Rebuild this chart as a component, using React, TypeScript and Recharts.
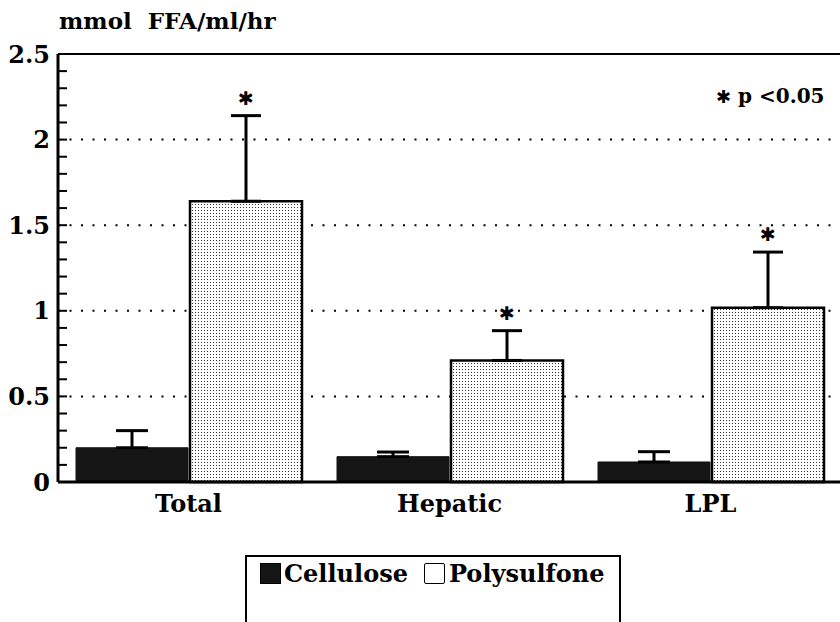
import { BarChart, Bar, XAxis, YAxis, CartesianGrid, ErrorBar, LabelList, ReferenceLine } from 'recharts'

const categories = ['Total', 'Hepatic', 'LPL']
const cellulose = [0.2, 0.148, 0.117]
const celluloseSd = [0.1, 0.027, 0.06]
const polysulfone = [1.64, 0.71, 1.018]
const polysulfoneSd = [0.5, 0.174, 0.325]
const significant = [true, true, true]
const seriesNames = ['Cellulose', 'Polysulfone']
const yTicks = [0, 0.5, 1, 1.5, 2, 2.5]
const gridValues = [0.5, 1, 1.5, 2]
const allTicks = [0, 0.1, 0.2, 0.3, 0.4, 0.5, 0.6, 0.7, 0.8, 0.9, 1, 1.1, 1.2, 1.3, 1.4, 1.5, 1.6, 1.7, 1.8, 1.9, 2, 2.1, 2.2, 2.3, 2.4, 2.5]

const data = categories.map((name, i) => ({
  name,
  cellulose: cellulose[i],
  celluloseErr: [0, celluloseSd[i]],
  polysulfone: polysulfone[i],
  polysulfoneErr: [0, polysulfoneSd[i]],
}))

const serif = '"DejaVu Serif", serif'
const fontSize = 24

function Star(props: any) {
  const { x, y, width, height, value, index } = props
  if (!significant[index] || !value) return null
  const pxPerUnit = height / value
  const top = y - polysulfoneSd[index] * pxPerUnit
  return (
    <text x={x + width / 2} y={top - 18} textAnchor="middle" dominantBaseline="central"
      fontFamily='"DejaVu Sans", sans-serif' fontSize={19} fontWeight="bold" fill="#000">✱</text>
  )
}

// labels only on the major ticks, short inward tick marks on every 0.1
function YTick(props: any) {
  const { x, y, payload } = props
  const v = payload.value
  const major = yTicks.some(t => Math.abs(t - v) < 1e-6)
  const edge = v < 1e-6 || v > 2.5 - 1e-6
  return (
    <g>
      {!edge && <line x1={x + 8} x2={x + 17} y1={y} y2={y} stroke="#000" strokeWidth={2} />}
      {major && (
        <text x={x} y={y} dy="0.36em" textAnchor="end" fill="#000" fontFamily={serif} fontWeight="bold" fontSize={24}>
          {String(v)}
        </text>
      )}
    </g>
  )
}

export default function App() {
  return (
    <div style={{ position: 'fixed', left: 0, top: 0, width: 840, height: 622, background: '#fff', overflow: 'hidden', fontFamily: serif, fontWeight: 'bold', color: '#000' }}>
      <BarChart width={841} height={622} data={data} margin={{ top: 54, right: 0, bottom: 100, left: 0 }}
        barCategoryGap={18} barGap={2}>
        <defs>
          <pattern id="dots" width="3" height="3" patternUnits="userSpaceOnUse">
            <rect width="3" height="3" fill="#fff" />
            <rect width="1" height="1" fill="#333" />
          </pattern>
        </defs>
        <CartesianGrid vertical={false} horizontalValues={gridValues} stroke="#000" strokeWidth={2} strokeDasharray="2 9.5" />
        <XAxis dataKey="name" axisLine={{ stroke: '#000', strokeWidth: 3 }} tickLine={false} tickSize={0} tickMargin={13}
          height={40} tick={{ fill: '#000', fontFamily: serif, fontWeight: 'bold', fontSize }} />
        <ReferenceLine y={2.5} stroke="#000" strokeWidth={2} />
        <Bar dataKey="cellulose" name={seriesNames[0]} fill="#151515" stroke="#151515" strokeWidth={1} isAnimationActive={false}>
          <ErrorBar dataKey="celluloseErr" direction="y" width={16} stroke="#000" strokeWidth={3} />
        </Bar>
        <Bar dataKey="polysulfone" name={seriesNames[1]} fill="url(#dots)" stroke="#000" strokeWidth={2.5} isAnimationActive={false}>
          <ErrorBar dataKey="polysulfoneErr" direction="y" width={15} stroke="#000" strokeWidth={3} />
          <LabelList dataKey="polysulfone" content={<Star />} />
        </Bar>
        <YAxis domain={[0, 2.5]} ticks={allTicks} width={58} axisLine={{ stroke: '#000', strokeWidth: 3 }}
          tickSize={0} tickMargin={8} interval={0} tick={<YTick />} />
      </BarChart>

      <div style={{ position: 'absolute', left: 59, top: 6, fontSize: 23, whiteSpace: 'pre', lineHeight: '30px' }}>
        mmol  FFA/ml/hr
      </div>
      <div style={{ position: 'absolute', left: 716, top: 83, fontSize: 20, whiteSpace: 'pre', lineHeight: '26px' }}>
        <span style={{ fontFamily: '"DejaVu Sans", sans-serif', fontSize: 18 }}>✱</span> p {'<'}0.05
      </div>

      <div style={{ position: 'absolute', left: 245, top: 555, width: 372, height: 80, border: '2px solid #000', background: '#fff' }}>
        <div style={{ position: 'absolute', left: 13, top: 1, height: 30, display: 'flex', alignItems: 'center', fontSize, whiteSpace: 'nowrap' }}>
          <span style={{ display: 'inline-block', width: 19, height: 19, border: '1.5px solid #000', background: '#151515', marginRight: 3 }} />
          <span>{seriesNames[0]}</span>
          <span style={{ display: 'inline-block', width: 19, height: 19, border: '1.5px solid #000', borderRadius: 2, background: '#fff', marginLeft: 16, marginRight: 4 }} />
          <span>{seriesNames[1]}</span>
        </div>
      </div>
    </div>
  )
}
